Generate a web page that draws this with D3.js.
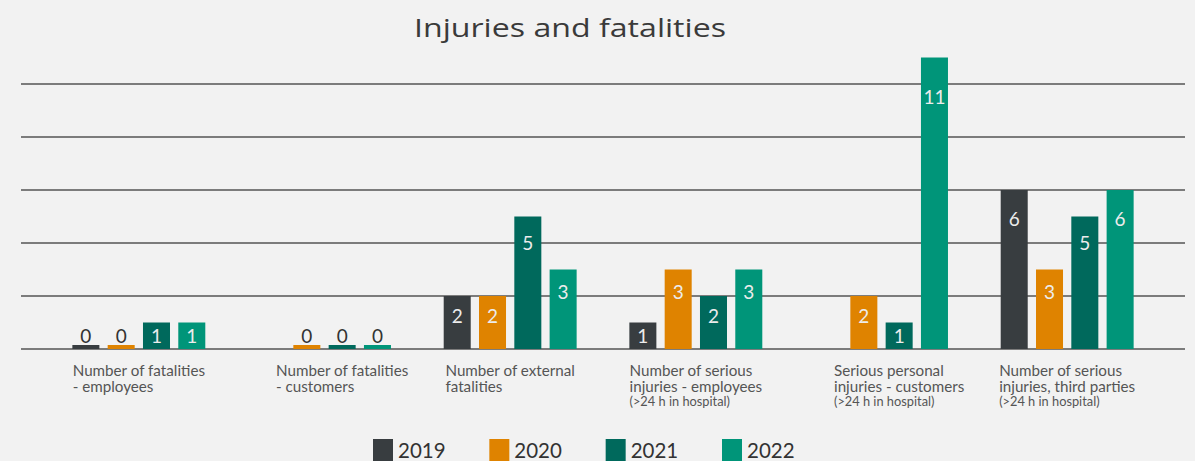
<!DOCTYPE html>
<html>
<head>
<meta charset="utf-8">
<script src="https://cdn.jsdelivr.net/npm/d3@7"></script>
<style>
body{margin:0;background:#f2f2f2;}
svg{display:block;}
</style>
</head>
<body>
<svg id="chart" width="1195" height="461"></svg>
<script>
// categories (each label split in lines, third part is the small note)
var categories = ["fatEmp","fatCust","fatExt","injEmp","injCust","injThird"];
var catLines = [
	["Number of fatalities","- employees"],
	["Number of fatalities","- customers"],
	["Number of external","fatalities"],
	["Number of serious","injuries - employees"],
	["Serious personal","injuries - customers"],
	["Number of serious","injuries, third parties"]
];
var catNotes = ["","","","(>24 h in hospital)","(>24 h in hospital)","(>24 h in hospital)"];

var years = ["2019","2020","2021","2022"];
// null = no bar at all
var v2019 = [0,null,2,1,null,6];
var v2020 = [0,0,2,3,2,3];
var v2021 = [1,0,5,2,1,5];
var v2022 = [1,0,3,3,11,6];
var gridTicks = [0,2,4,6,8,10];
var colors = ["#383d40","#df8300","#00695c","#009579"];

var series = [v2019,v2020,v2021,v2022];
var svg = d3.select("#chart");

var x0 = d3.scaleBand().domain(categories).range([46,1160]).paddingInner(0.284).paddingOuter(0.142);
var x1 = d3.scaleBand().domain(years).range([0,x0.bandwidth()]).paddingInner(0.235);
var y = d3.scaleLinear().domain([0,11]).range([349,57.5]);
var color = d3.scaleOrdinal().domain(years).range(colors);

// title
svg.append("text")
	.attr("x",570).attr("y",37)
	.attr("text-anchor","middle")
	.attr("textLength",312).attr("lengthAdjust","spacingAndGlyphs")
	.style("font-family","Open Sans").style("font-size","26px")
	.attr("fill","#3a3a3a")
	.text("Injuries and fatalities");

// gridlines
svg.append("g").selectAll("line").data(gridTicks).enter().append("line")
	.attr("x1",21).attr("x2",1185)
	.attr("y1",function(d){return y(d);})
	.attr("y2",function(d){return y(d);})
	.attr("stroke","#555").attr("stroke-width",1.5);

// flatten data
var rows = [];
categories.forEach(function(c,i){
	years.forEach(function(yr,j){
		var v = series[j][i];
		if(v!==null) rows.push({cat:c,year:yr,value:v});
	});
});

var bars = svg.append("g");
bars.selectAll("rect").data(rows).enter().append("rect")
	.attr("x",function(d){return x0(d.cat)+x1(d.year);})
	.attr("width",x1.bandwidth())
	.attr("y",function(d){return d.value==0 ? y(0)-4 : y(d.value);})
	.attr("height",function(d){return d.value==0 ? 4 : y(0)-y(d.value);})
	.attr("fill",function(d){return color(d.year);});

// value labels
bars.selectAll("text").data(rows).enter().append("text")
	.attr("x",function(d){return x0(d.cat)+x1(d.year)+x1.bandwidth()/2;})
	.attr("y",function(d){
		if(d.value==0) return y(0)-6;
		var h = y(0)-y(d.value);
		return y(d.value)+Math.min(h/2,16+0.08*h)+7;
	})
	.attr("text-anchor","middle")
	.style("font-family","Lato").style("font-size","19px")
	.attr("fill",function(d){return d.value==0 ? "#333" : "#ececec";})
	.text(function(d){return d.value;});

// category labels, block centred under the bars that exist
categories.forEach(function(c,i){
	var xs = [];
	years.forEach(function(yr,j){ if(series[j][i]!==null) xs.push(x0(c)+x1(yr)); });
	var mid = (d3.min(xs)+d3.max(xs)+x1.bandwidth())/2;
	var g = svg.append("g");
	var t = g.append("text")
		.style("font-family","Lato").style("font-size","15.2px")
		.attr("fill","#555");
	catLines[i].forEach(function(l,k){
		t.append("tspan").attr("x",0).attr("y",376+k*16).text(l);
	});
	if(catNotes[i]!=""){
		g.append("text").attr("x",0).attr("y",406)
			.style("font-family","Lato").style("font-size","12.8px")
			.attr("fill","#555").text(catNotes[i]);
	}
	var w = 0;
	t.selectAll("tspan").each(function(){ w = Math.max(w,this.getComputedTextLength()); });
	g.attr("transform","translate("+(mid-w/2)+",0)");
});

// legend
var leg = svg.append("g");
var legX = d3.scalePoint().domain(years).range([373,722]);
years.forEach(function(yr){
	leg.append("rect").attr("x",legX(yr)).attr("y",439).attr("width",20).attr("height",22)
		.attr("fill",color(yr));
	leg.append("text").attr("x",legX(yr)+25).attr("y",458)
		.style("font-family","Lato").style("font-size","20.5px")
		.attr("fill","#333").text(yr);
});
</script>
</body>
</html>
